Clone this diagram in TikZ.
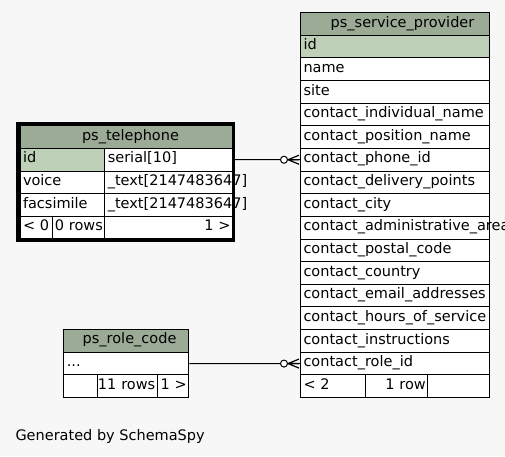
\documentclass[tikz,border=0pt]{standalone}
\usepackage{fontspec}
\setmainfont{DejaVu Sans}
\definecolor{pagebg}{HTML}{F7F7F7}
\definecolor{headbg}{HTML}{9BAB96}
\definecolor{pkbg}{HTML}{BED1B8}
\begin{document}
\begin{tikzpicture}[x=1pt,y=-1pt,
  every node/.style={font=\fontsize{14.5}{17}\selectfont},
  cell/.style={draw=black, line width=1pt, fill=white, anchor=north west,
    inner xsep=3pt, inner ysep=0pt, text height=10pt, text depth=3.5pt,
    minimum height=22.65pt, align=left},
  head/.style={cell, fill=headbg, align=center, minimum height=#1},
  rfoot/.style={cell, inner xsep=2pt, align=right},
  % column widths
  spcol/.style={text width=183pt, minimum width=189pt},
  telname/.style={text width=78.8pt, minimum width=84.8pt},
  teltype/.style={text width=121.7pt, minimum width=127.7pt},
  rolecol/.style={text width=119pt, minimum width=125pt},
  crowodot/.pic={
    \draw[line width=1pt, fill=white] (-16,0) circle[radius=3.5];
    \draw[line width=1.2pt] (-12,0) -- (-1,-4.5) (-12,0) -- (-1,0) (-12,0) -- (-1,4.5);
  }
]
\fill[pagebg] (0,0) rectangle (505,456);
\useasboundingbox (0,0) rectangle (505,456);

% ---- ps_service_provider ----
\node[head=22.65pt, spcol] (sp-head) at (300,12) {\hspace*{15pt}ps\_service\_provider};
\node[cell, spcol, fill=pkbg] (sp-id) at (300,34.65) {id};
\foreach \n/\t [count=\i from 2] in {
    name/name,
    site/site,
    ind/contact\_individual\_name,
    pos/contact\_position\_name,
    phone/contact\_phone\_id,
    deliv/contact\_delivery\_points,
    city/contact\_city,
    admin/contact\_administrative\_area,
    postal/contact\_postal\_code,
    country/contact\_country,
    email/contact\_email\_addresses,
    hours/contact\_hours\_of\_service,
    instr/contact\_instructions,
    role/contact\_role\_id}
  \node[cell, spcol] (sp-\n) at (300,{12+22.65*\i}) {\t};
\node[cell, text width=58.7pt, minimum width=64.7pt] (sp-foot1) at (300,374.4) {<~2};
\node[rfoot, text width=58.6pt, minimum width=62.6pt] (sp-foot2) at (364.7,374.4) {1~row};
\node[cell, text width=55.7pt, minimum width=61.7pt] (sp-foot3) at (427.3,374.4) {};

% ---- ps_telephone ----
\node[head=23.3pt, text width=206.5pt, minimum width=212.5pt] (tel-head) at (19.5,124.6) {\hspace*{8.5pt}ps\_telephone};
\node[cell, telname, fill=pkbg] (tel-id) at (19.5,147.9) {id};
\node[cell, teltype] (tel-idtype) at (104.3,147.9) {serial[10]};
\node[cell, telname] (tel-voice) at (19.5,170.55) {voice};
\node[cell, teltype] (tel-voicetype) at (104.3,170.55) {\_text[2147483647]};
\node[cell, telname] (tel-fax) at (19.5,193.2) {facsimile};
\node[cell, teltype] (tel-faxtype) at (104.3,193.2) {\_text[2147483647]};
\node[cell, text width=26.8pt, minimum width=32.8pt] (tel-foot1) at (19.5,215.85) {<~0};
\node[rfoot, text width=48pt, minimum width=52pt] (tel-foot2) at (52.3,215.85) {0~rows};
\node[rfoot, text width=123.7pt, minimum width=127.7pt] (tel-foot3) at (104.3,215.85) {1~>};

% ---- ps_role_code ----
\node[head=23.25pt, rolecol] (role-head) at (63.3,328.5) {\hspace*{6.5pt}ps\_role\_code};
\node[cell, rolecol] (role-dots) at (63.3,351.75) {...};
\node[cell, text width=27.4pt, minimum width=33.4pt] (role-foot1) at (63.3,374.4) {};
\node[rfoot, text width=56pt, minimum width=60pt] (role-foot2) at (96.7,374.4) {\makebox[56pt][r]{11~rows}};
\node[rfoot, text width=27.6pt, minimum width=31.6pt] (role-foot3) at (156.7,374.4) {1~>};

% ---- relationships ----
\draw[line width=1pt] (tel-idtype.east) -- (sp-phone.west);
\pic at (sp-phone.west) {crowodot};
\draw[line width=1pt] (role-dots.east) -- (sp-role.west);
\pic at (sp-role.west) {crowodot};

% heavy frame around the selected table
\draw[line width=3.5pt] (17.75,123.25) rectangle (233.4,240);

\node[anchor=base west, inner sep=0pt] (gen) at (15.3,440) {Generated by SchemaSpy};
\end{tikzpicture}
\end{document}
